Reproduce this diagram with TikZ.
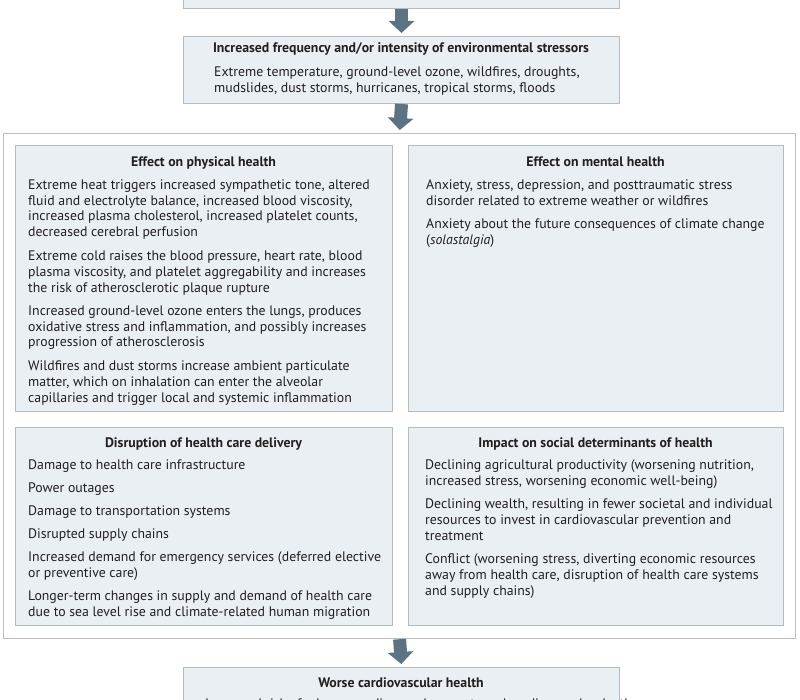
\documentclass[tikz,border=0pt]{standalone}
\usepackage{fontspec}
\setmainfont{PT Sans}
\usetikzlibrary{arrows.meta}
\definecolor{boxfill}{HTML}{E9EFF3}
\definecolor{boxline}{HTML}{B5BCC1}
\definecolor{outerline}{HTML}{BEBEBE}
\definecolor{arrowc}{HTML}{5B7382}
\definecolor{txt}{HTML}{231F20}
\begin{document}
\begin{tikzpicture}[x=1pt,y=-1pt,
  box/.style={draw=boxline, fill=boxfill, line width=1pt, inner sep=0pt, anchor=north west},
  outerbox/.style={draw=outerline, fill=white, line width=1.2pt, inner sep=0pt, anchor=north west},
  headtxt/.style={font=\fontsize{13.8}{16}\selectfont\bfseries, text=txt, inner sep=0pt, anchor=base},
  bodytxt/.style={font=\fontsize{13.8}{16}\selectfont, text=txt, align=left, anchor=north west, inner sep=0pt},
  flow/.style={draw=arrowc, line width=13pt, -{Triangle[width=25pt,length=12pt]}, shorten >=3pt}
]
\useasboundingbox (0,0) rectangle (800,700);
\clip (0,0) rectangle (800,700);

% boxes
\node[box, minimum width=436pt, minimum height=68pt] (topbox) at (183,-60) {};
\node[box, minimum width=436pt, minimum height=67pt] (stress) at (183,36) {};
\node[outerbox, minimum width=792pt, minimum height=505pt] (outer) at (3,133) {};
\node[box, minimum width=377pt, minimum height=266pt] (phys) at (15,145) {};
\node[box, minimum width=375pt, minimum height=266pt] (ment) at (408,145) {};
\node[box, minimum width=377pt, minimum height=198pt] (disr) at (15,427) {};
\node[box, minimum width=375pt, minimum height=198pt] (soc) at (408,427) {};
\node[box, minimum width=436pt, minimum height=80pt] (worse) at (183,667) {};

% arrows
\draw[flow] (topbox.south) -- (stress.north);
\draw[flow] (stress.south) -- (outer.north);
\draw[flow] (outer.south) -- (worse.north);

% stressors
\node[headtxt] (stressh) at (401,53) {Increased frequency and/or intensity of environmental stressors};
\node[bodytxt] (stressb) at (214,65.3) {\strut Extreme temperature, ground-level ozone, wildfires, droughts,\\
mudslides, dust storms, hurricanes, tropical storms, floods};

% physical
\node[headtxt] (physh) at (203.5,166.3) {Effect on physical health};
\node[bodytxt] (physb) at (28,177.6) {\strut Extreme heat triggers increased sympathetic tone, altered\\
fluid and electrolyte balance, increased blood viscosity,\\
increased plasma cholesterol, increased platelet counts,\\
decreased cerebral perfusion\\[7pt]
Extreme cold raises the blood pressure, heart rate, blood\\
plasma viscosity, and platelet aggregability and increases\\
the risk of atherosclerotic plaque rupture\\[7pt]
Increased ground-level ozone enters the lungs, produces\\
oxidative stress and inflammation, and possibly increases\\
progression of atherosclerosis\\[7pt]
Wildfires and dust storms increase ambient particulate\\
matter, which on inhalation can enter the alveolar\\
capillaries and trigger local and systemic inflammation};

% mental
\node[headtxt] (menth) at (595.5,166.3) {Effect on mental health};
\node[bodytxt] (mentb) at (426,178.6) {\strut Anxiety, stress, depression, and posttraumatic stress\\
disorder related to extreme weather or wildfires\\[7pt]
Anxiety about the future consequences of climate change\\
(\textit{solastalgia})};

% disruption
\node[headtxt] (disrh) at (203.5,447.3) {Disruption of health care delivery};
\node[bodytxt] (disrb) at (28,457.6) {\strut Damage to health care infrastructure\\[7pt]
Power outages\\[7pt]
Damage to transportation systems\\[7pt]
Disrupted supply chains\\[7pt]
Increased demand for emergency services (deferred elective\\
or preventive care)\\[7pt]
Longer-term changes in supply and demand of health care\\
due to sea level rise and climate-related human migration};

% social
\node[headtxt] (soch) at (595.5,447.3) {Impact on social determinants of health};
\node[bodytxt] (socb) at (425,457.6) {\strut Declining agricultural productivity (worsening nutrition,\\
increased stress, worsening economic well-being)\\[7pt]
Declining wealth, resulting in fewer societal and individual\\
resources to invest in cardiovascular prevention and\\
treatment\\[7pt]
Conflict (worsening stress, diverting economic resources\\
away from health care, disruption of health care systems\\
and supply chains)};

% worse
\node[headtxt] (worseh) at (401,687) {Worse cardiovascular health};
\node[bodytxt] (worseb) at (205,697) {\strut Increased risk of adverse cardiovascular events and cardiovascular death};
\end{tikzpicture}
\end{document}
